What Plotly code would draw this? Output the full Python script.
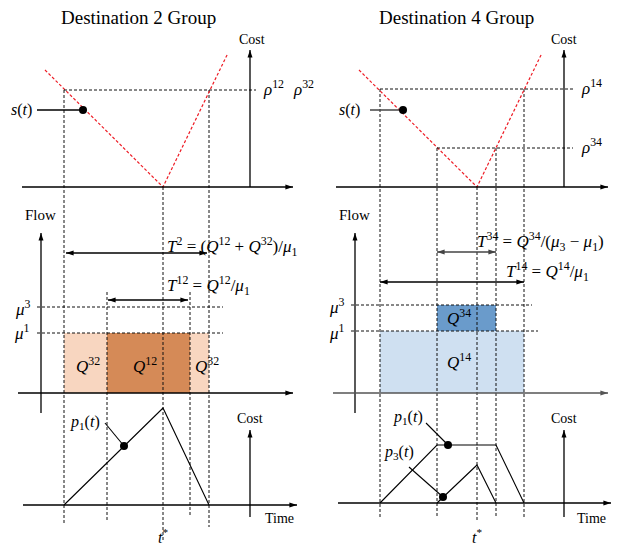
import plotly.graph_objects as go

W, H = 622, 548
SERIF = "Liberation Serif, DejaVu Serif, serif"

# ---------------- Destination 2 group (left column) ----------------
d2_title = "Destination 2 Group"
d2_vlines = [(64, 90, 523), (107, 292, 520), (163, 187, 540), (190, 292, 517), (209, 90, 527)]
d2_sched_x = [45, 163, 228]          # schedule cost s(t), piecewise linear
d2_sched_y = [70, 187, 53]
d2_rho_y = 90
d2_rho_span = (64, 256)
d2_st_dot = (83, 110)
d2_mu3_y, d2_mu1_y = 307, 333
d2_mu_span = (37, 223)
d2_flow_base = 393
d2_blocks = [(64, 107, "light"), (107, 190, "dark"), (190, 209, "light")]
d2_block_labels = [(88, 365, "32"), (145, 365, "12"), (207, 365, "32")]
d2_T2 = (66, 207, 253)
d2_T12 = (108, 188, 300)
d2_p1_x = [64, 163, 209]
d2_p1_y = [505, 408, 505]
d2_p1_dot = (124, 446)

# ---------------- Destination 4 group (right column) ----------------
d4_title = "Destination 4 Group"
d4_vlines = [(380, 89, 517), (437, 148, 517), (477, 187, 520), (496, 148, 517), (524, 89, 517)]
d4_sched_x = [359, 477, 542]
d4_sched_y = [70, 187, 53]
d4_rho14_y, d4_rho34_y = 89, 148
d4_rho14_span = (380, 573)
d4_rho34_span = (437, 573)
d4_st_dot = (403, 110)
d4_mu3_y, d4_mu1_y = 305, 331
d4_mu3_span = (351, 532)
d4_mu1_span = (351, 538)
d4_flow_base = 393
d4_Q34 = (437, 496)
d4_Q14 = (380, 524)
d4_T34 = (437, 496, 252)
d4_T14 = (380, 524, 282)
d4_p1_x = [380, 437, 496, 524]
d4_p1_y = [503, 445, 445, 503]
d4_p3_x = [437, 477, 496]
d4_p3_y = [503, 465, 503]
d4_p1_dot = (448, 445)
d4_p3_dot = (443, 497)

fill_colors = {"light": "#F8D6C0", "dark": "#D58A57", "q34": "#6A9BCB", "q14": "#CFE0F1"}

fig = go.Figure()
shapes = []
ann = []

DASH = "3px,2px"
HEAD_ANGLE = {"up": 0, "right": 90, "down": 180, "left": 270}


def line(xs, ys, color="black", width=1.0, dash=None):
    fig.add_trace(go.Scatter(x=list(xs), y=list(ys), mode="lines",
                             line=dict(color=color, width=width, dash=dash),
                             hoverinfo="skip", showlegend=False))


def dot(p):
    fig.add_trace(go.Scatter(x=[p[0]], y=[p[1]], mode="markers",
                             marker=dict(color="black", size=8),
                             hoverinfo="skip", showlegend=False))


def heads(points, color="black"):
    # arrowheads: the tip of the "arrow" symbol sits on the data point
    fig.add_trace(go.Scatter(
        x=[p[0] for p in points], y=[p[1] for p in points], mode="markers",
        marker=dict(symbol="arrow", size=8, color=color,
                    angle=[HEAD_ANGLE[p[2]] for p in points], line=dict(width=0)),
        hoverinfo="skip", showlegend=False))


def arrow(x0, y0, x1, y1, both=False, color="black", width=1.3):
    line([x0, x1], [y0, y1], color=color, width=width)
    if y0 == y1:
        d_end = "right" if x1 > x0 else "left"
        d_start = "left" if x1 > x0 else "right"
    else:
        d_end = "up" if y1 < y0 else "down"
        d_start = "down" if y1 < y0 else "up"
    pts = [(x1, y1, d_end)]
    if both:
        pts.append((x0, y0, d_start))
    heads(pts, color)


def label(x, y, text, size=15, anchor="center", color="black"):
    ann.append(dict(x=x, y=y, xref="x", yref="y", text=text, showarrow=False,
                    xanchor=anchor, yanchor="middle",
                    font=dict(family=SERIF, size=size, color=color)))


def rect(x0, x1, y0, y1, color):
    shapes.append(dict(type="rect", xref="x", yref="y", x0=x0, x1=x1, y0=y0, y1=y1,
                       fillcolor=color, line=dict(width=0), layer="below"))


def sup(base, s):
    return f"<i>{base}</i><sup>{s}</sup>"


# ---- left column ----
for x, y0, y1 in d2_vlines:
    line([x, x], [y0, y1], color="#111", dash=DASH)
line(d2_sched_x, d2_sched_y, color="#EE1C25", width=1.2, dash=DASH)
line(d2_rho_span, [d2_rho_y] * 2, color="#111", dash=DASH)
line(d2_mu_span, [d2_mu3_y] * 2, color="#111", dash=DASH)
line(d2_mu_span, [d2_mu1_y] * 2, color="#111", dash=DASH)
for x0, x1, kind in d2_blocks:
    rect(x0, x1, d2_mu1_y, d2_flow_base, fill_colors[kind])
line([37, d2_st_dot[0]], [d2_st_dot[1]] * 2, width=1.3)
dot(d2_st_dot)
line(d2_p1_x, d2_p1_y, width=1.1)
line([105, d2_p1_dot[0]], [423, d2_p1_dot[1]], width=1.1)
dot(d2_p1_dot)

arrow(250, 187, 250, 50)
arrow(22, 187, 293, 187)
arrow(41, 413, 41, 233)
arrow(18, 393, 293, 393)
arrow(23, 505, 297, 505)
arrow(250, 517, 250, 430)
arrow(d2_T2[0], d2_T2[2], d2_T2[1], d2_T2[2], both=True)
arrow(d2_T12[0], d2_T12[2], d2_T12[1], d2_T12[2], both=True)

label(138, 17, d2_title, size=19)
label(252, 39, "Cost", size=14)
label(273, 88, sup("ρ", "12"), size=17)
label(303, 88, sup("ρ", "32"), size=17)
label(21, 110, "<i>s</i>(<i>t</i>)", size=16)
label(40, 215, "Flow", size=15)
label(23, 308, sup("μ", "3"), size=17)
label(22, 332, sup("μ", "1"), size=17)
label(165, 246, f"{sup('T','2')} = ({sup('Q','12')} + {sup('Q','32')})/<i>μ</i><sub>1</sub>",
      size=17, anchor="left")
label(165, 285, f"{sup('T','12')} = {sup('Q','12')}/<i>μ</i><sub>1</sub>", size=17, anchor="left")
for x, y, s in d2_block_labels:
    label(x, y, sup("Q", s), size=17)
label(85, 422, "<i>p</i><sub>1</sub>(<i>t</i>)", size=16)
label(250, 418, "Cost", size=14)
label(279, 518, "Time", size=14)
label(163, 536, "<i>t</i><sup>*</sup>", size=16)

# ---- right column ----
for x, y0, y1 in d4_vlines:
    line([x, x], [y0, y1], color="#111", dash=DASH)
line(d4_sched_x, d4_sched_y, color="#EE1C25", width=1.2, dash=DASH)
line(d4_rho14_span, [d4_rho14_y] * 2, color="#111", dash=DASH)
line(d4_rho34_span, [d4_rho34_y] * 2, color="#111", dash=DASH)
line(d4_mu3_span, [d4_mu3_y] * 2, color="#111", dash=DASH)
line(d4_mu1_span, [d4_mu1_y] * 2, color="#111", dash=DASH)
rect(d4_Q14[0], d4_Q14[1], d4_mu1_y, d4_flow_base, fill_colors["q14"])
rect(d4_Q34[0], d4_Q34[1], d4_mu3_y, d4_mu1_y, fill_colors["q34"])
line([370, d4_st_dot[0]], [d4_st_dot[1]] * 2, width=1.3, color="#444")
dot(d4_st_dot)
line(d4_p1_x, d4_p1_y, width=1.1)
line(d4_p3_x, d4_p3_y, width=1.1)
line([426, d4_p1_dot[0]], [423, d4_p1_dot[1]], width=1.1)
dot(d4_p1_dot)
line([409, d4_p3_dot[0]], [467, d4_p3_dot[1]], width=1.1)
dot(d4_p3_dot)

arrow(564, 187, 564, 50)
arrow(336, 187, 608, 187)
arrow(355, 413, 355, 233)
arrow(333, 393, 608, 393, color="#555", width=1.5)
arrow(338, 503, 611, 503)
arrow(564, 517, 564, 430)
arrow(d4_T34[0], d4_T34[2], d4_T34[1], d4_T34[2], both=True, color="#444")
arrow(d4_T14[0], d4_T14[2], d4_T14[1], d4_T14[2], both=True)

label(456, 17, d4_title, size=19)
label(564, 39, "Cost", size=14)
label(591, 87, sup("ρ", "14"), size=17)
label(591, 146, sup("ρ", "34"), size=17)
label(349, 110, "<i>s</i>(<i>t</i>)", size=16)
label(354, 215, "Flow", size=15)
label(337, 306, sup("μ", "3"), size=17)
label(337, 332, sup("μ", "1"), size=17)
label(475, 241, f"{sup('T','34')} = {sup('Q','34')}/(<i>μ</i><sub>3</sub> − <i>μ</i><sub>1</sub>)",
      size=17, anchor="left")
label(504, 271, f"{sup('T','14')} = {sup('Q','14')}/<i>μ</i><sub>1</sub>", size=17, anchor="left")
label(459, 317, sup("Q", "34"), size=17)
label(459, 361, sup("Q", "14"), size=17)
label(408, 417, "<i>p</i><sub>1</sub>(<i>t</i>)", size=16)
label(399, 452, "<i>p</i><sub>3</sub>(<i>t</i>)", size=16)
label(564, 418, "Cost", size=14)
label(591, 518, "Time", size=14)
label(477, 536, "<i>t</i><sup>*</sup>", size=16)

fig.update_layout(
    width=W, height=H,
    margin=dict(l=0, r=0, t=0, b=0),
    paper_bgcolor="white", plot_bgcolor="white",
    xaxis=dict(range=[0, W], visible=False, fixedrange=True),
    yaxis=dict(range=[H, 0], visible=False, fixedrange=True),
    shapes=shapes, annotations=ann, showlegend=False,
)

fig.write_html("out.html")
